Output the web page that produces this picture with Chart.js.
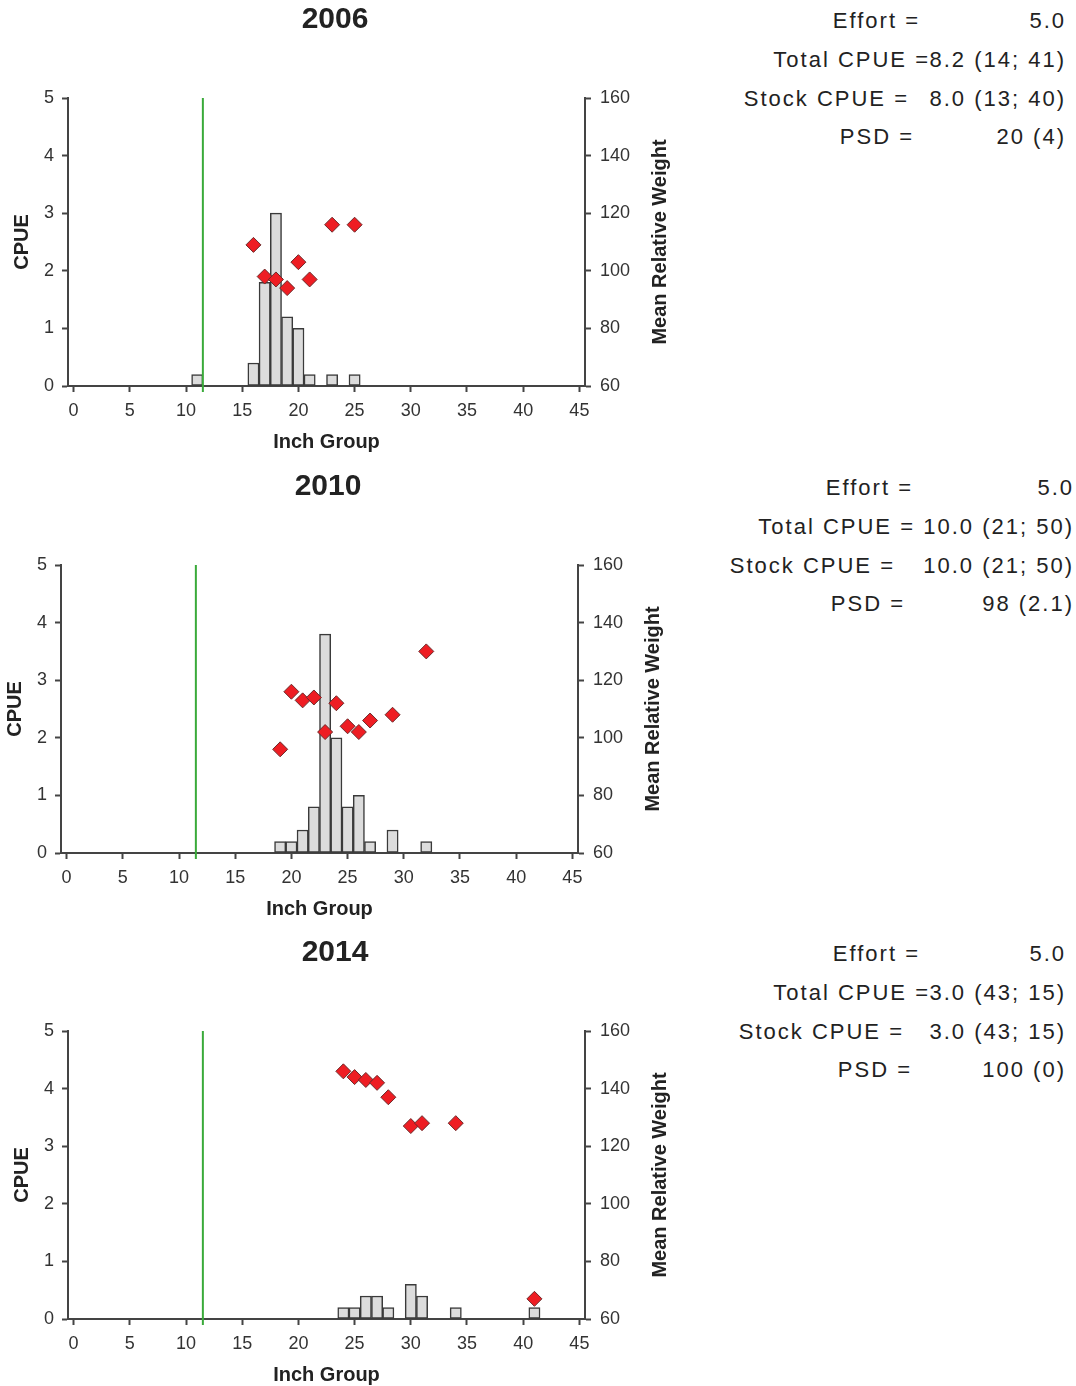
<!DOCTYPE html>
<html>
<head>
<meta charset="utf-8">
<script src="https://cdn.jsdelivr.net/npm/chart.js@4.4.1/dist/chart.umd.min.js"></script>
<style>
  html, body { margin: 0; padding: 0; background: #fff; overflow: hidden; }
  #page { position: relative; width: 1076px; height: 1386px; }
  .panel { position: absolute; }
  .stat { position: absolute; font: 22px "Liberation Sans", Arial, sans-serif; letter-spacing: 2px;
          color: #222; white-space: pre; line-height: 26px; }
</style>
</head>
<body>
<div id="page"></div>
<script>
// inch group on x, CPUE bars on left axis, mean relative weight (diamonds) on right axis
const years = ['2006', '2010', '2014'];
const stockLength = 11.5;

const inch2006 = [11, 16, 17, 18, 19, 20, 21, 23, 25];
const cpue2006 = [0.2, 0.4, 1.8, 3.0, 1.2, 1.0, 0.2, 0.2, 0.2];
const wrInch2006 = [16, 17, 18, 19, 20, 21, 23, 25];
const wr2006 = [109, 98, 97, 94, 103, 97, 116, 116];

const inch2010 = [19, 20, 21, 22, 23, 24, 25, 26, 27, 29, 32];
const cpue2010 = [0.2, 0.2, 0.4, 0.8, 3.8, 2.0, 0.8, 1.0, 0.2, 0.4, 0.2];
const wrInch2010 = [19, 20, 21, 22, 23, 24, 25, 26, 27, 29, 32];
const wr2010 = [96, 116, 113, 114, 102, 112, 104, 102, 106, 108, 130];

const inch2014 = [24, 25, 26, 27, 28, 30, 31, 34, 41];
const cpue2014 = [0.2, 0.2, 0.4, 0.4, 0.2, 0.6, 0.4, 0.2, 0.2];
const wrInch2014 = [24, 25, 26, 27, 28, 30, 31, 34, 41];
const wr2014 = [146, 144, 143, 142, 137, 127, 128, 128, 67];

const statLabels = ['Effort =', 'Total CPUE =', 'Stock CPUE =', 'PSD ='];
const stats2006 = ['5.0', '8.2 (14; 41)', '8.0 (13; 40)', '20 (4)'];
const stats2010 = ['5.0', '10.0 (21; 50)', '10.0 (21; 50)', '98 (2.1)'];
const stats2014 = ['5.0', '3.0 (43; 15)', '3.0 (43; 15)', '100 (0)'];

const xTitle = 'Inch Group';
const yTitle = 'CPUE';
const y2Title = 'Mean Relative Weight';

Chart.defaults.font.family = '"Liberation Sans", Arial, sans-serif';
Chart.defaults.color = '#333';

const panels = [
  { year: years[0], inch: inch2006, cpue: cpue2006, wrInch: wrInch2006, wr: wr2006, stats: stats2006,
    left: 0, top: 0, labelRight: [918, 928, 907, 912], valueRight: 1064 },
  { year: years[1], inch: inch2010, cpue: cpue2010, wrInch: wrInch2010, wr: wr2010, stats: stats2010,
    left: -7, top: 467, labelRight: [911, 913, 893, 903], valueRight: 1072 },
  { year: years[2], inch: inch2014, cpue: cpue2014, wrInch: wrInch2014, wr: wr2014, stats: stats2014,
    left: 0, top: 933, labelRight: [918, 928, 902, 910], valueRight: 1064 },
];
const rowCenters = [21, 60, 99, 137];

// green stock-length line + right axis title read bottom-to-top
const extras = {
  id: 'extras',
  afterDatasetsDraw(chart, args, opts) {
    const { ctx, chartArea, scales } = chart;
    const x = scales.x.getPixelForValue(opts.stockLine);
    ctx.save();
    ctx.strokeStyle = '#3aaa3a';
    ctx.lineWidth = 2;
    ctx.beginPath();
    ctx.moveTo(x, chartArea.top);
    ctx.lineTo(x, chartArea.bottom + 6);
    ctx.stroke();
    ctx.restore();
  },
  afterDraw(chart, args, opts) {
    const { ctx, chartArea, scales } = chart;
    ctx.save();
    ctx.translate(scales.y2.right - 10, (chartArea.top + chartArea.bottom) / 2);
    ctx.rotate(-Math.PI / 2);
    ctx.font = 'bold 20px "Liberation Sans", Arial, sans-serif';
    ctx.fillStyle = '#222';
    ctx.textAlign = 'center';
    ctx.textBaseline = 'middle';
    ctx.fillText(opts.rightTitle, 0, 0);
    ctx.restore();
  }
};

const page = document.getElementById('page');

const axisBits = {
  grid: { drawOnChartArea: false, drawTicks: true, tickLength: 6, tickColor: '#444', tickWidth: 2, offset: false },
  border: { display: true, color: '#444', width: 2 },
};

panels.forEach(p => {
  const wrap = document.createElement('div');
  wrap.className = 'panel';
  wrap.style.left = p.left + 'px';
  wrap.style.top = p.top + 'px';
  const canvas = document.createElement('canvas');
  canvas.width = 670;
  canvas.height = 466;
  wrap.appendChild(canvas);
  page.appendChild(wrap);

  new Chart(canvas, {
    type: 'bar',
    data: {
      datasets: [
        {
          type: 'scatter',
          data: p.wrInch.map((x, i) => ({ x: x, y: p.wr[i] })),
          yAxisID: 'y2',
          pointStyle: 'rectRot',
          pointRadius: 7.5,
          backgroundColor: '#ee1d23',
          borderColor: '#6b2a2a',
          borderWidth: 1,
          order: 1,
        },
        {
          type: 'bar',
          data: p.inch.map((x, i) => ({ x: x, y: p.cpue[i] })),
          yAxisID: 'y',
          backgroundColor: '#dcdcdc',
          borderColor: '#3a3a3a',
          borderWidth: 1.5,
          borderSkipped: false,
          barPercentage: 1,
          categoryPercentage: 1,
          order: 2,
        },
      ],
    },
    options: {
      responsive: false,
      animation: false,
      events: [],
      layout: { padding: 0 },
      plugins: {
        legend: { display: false },
        tooltip: { enabled: false },
        title: {
          display: true, text: p.year, color: '#222',
          font: { size: 30, weight: 'bold' },
          padding: { top: 2, bottom: 60 },
        },
        extras: { stockLine: stockLength, rightTitle: y2Title },
      },
      scales: {
        x: {
          type: 'linear', min: -0.5, max: 45.5, offset: false,
          ticks: { stepSize: 5, includeBounds: false, autoSkip: false, maxRotation: 0,
                   color: '#333', font: { size: 18 }, padding: 8 },
          ...axisBits,
          title: { display: true, text: xTitle, color: '#222', font: { size: 20, weight: 'bold' },
                   padding: { top: 0, bottom: 12 } },
          afterFit: s => { s.height = 80; },
        },
        y: {
          position: 'left', min: 0, max: 5,
          ticks: { stepSize: 1, color: '#333', font: { size: 18 }, padding: 8 },
          ...axisBits,
          title: { display: true, text: yTitle, color: '#222', font: { size: 20, weight: 'bold' },
                   padding: { top: 10, bottom: 0 } },
          afterFit: s => { s.width = 68; },
        },
        y2: {
          position: 'right', min: 60, max: 160,
          ticks: { stepSize: 20, color: '#333', font: { size: 18 }, padding: 9 },
          ...axisBits,
          afterFit: s => { s.width = 85; },
        },
      },
    },
    plugins: [extras],
  });

  statLabels.forEach((lab, i) => {
    const l = document.createElement('div');
    l.className = 'stat';
    l.textContent = lab;
    l.style.right = (1076 - p.labelRight[i] - 2) + 'px';
    l.style.top = (p.top + rowCenters[i] - 13) + 'px';
    page.appendChild(l);
    const v = document.createElement('div');
    v.className = 'stat';
    v.textContent = p.stats[i];
    v.style.right = (1076 - p.valueRight - 2) + 'px';
    v.style.top = (p.top + rowCenters[i] - 13) + 'px';
    page.appendChild(v);
  });
});
</script>
</body>
</html>
